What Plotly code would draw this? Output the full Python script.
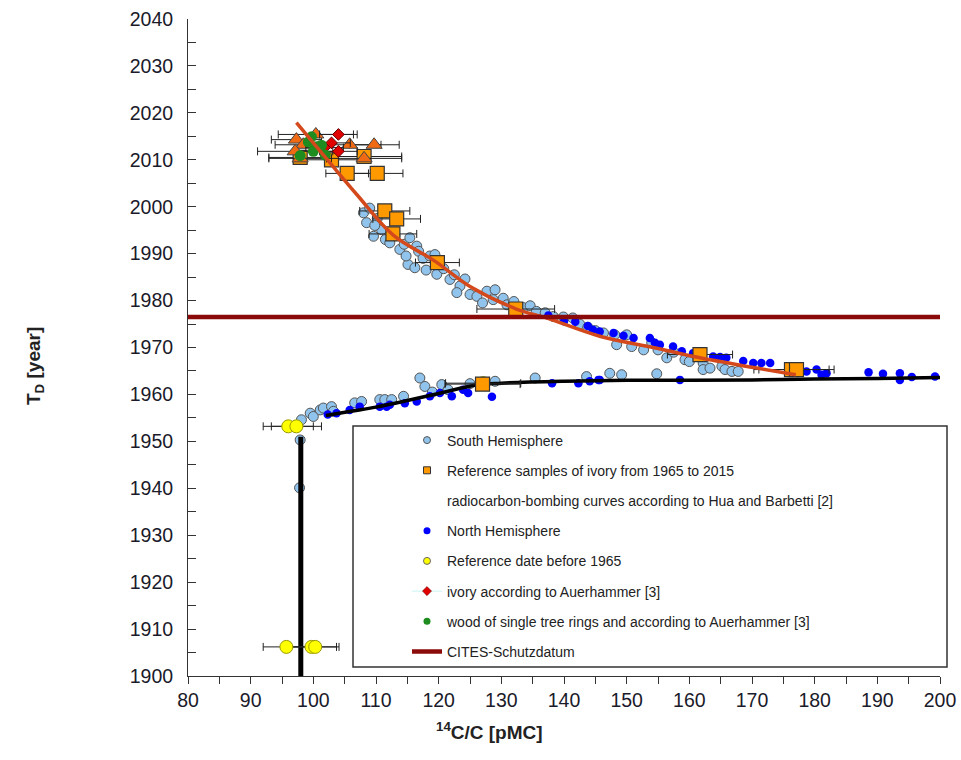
import plotly.graph_objects as go

# ---------------- data ----------------
# South Hemisphere (light blue circles)
sh_x = [108.0, 109.0, 108.5, 109.6, 110.9, 110.2, 109.8, 111.5, 112.2, 113.0, 113.8, 114.5, 115.4, 116.5,
        116.8, 115.1, 116.2, 114.8, 117.5, 118.6, 119.4, 118.0, 119.7, 120.8, 121.8, 122.5, 124.2, 123.4,
        122.9, 125.0, 126.1, 127.7, 129.0, 128.7, 127.0, 130.3, 130.9, 132.0, 133.5, 134.6, 135.6, 137.0,
        138.3, 139.9, 141.4, 142.5, 143.8, 145.0, 146.3, 148.1, 150.0, 148.4, 150.8, 152.7, 155.0, 156.4,
        159.3, 161.2, 162.2, 162.2, 163.3, 165.2, 165.7, 166.8, 167.8, 154.0, 157.5, 160.0,
        97.8, 97.9, 98.1, 99.5, 100.0, 101.1, 101.6, 102.9, 103.2, 106.6, 107.7, 110.6, 111.4, 112.5,
        114.4, 117.0, 117.8, 120.5, 125.0, 129.0, 135.4, 143.6, 147.3, 149.2, 154.8, 119.0, 121.5]
sh_y = [1998.7, 1999.7, 1996.6, 1993.7, 1995.1, 1997.5, 1996.0, 1993.0, 1992.3, 1993.8, 1990.9, 1992.0, 1993.4, 1991.6,
        1990.5, 1987.7, 1987.0, 1989.5, 1989.0, 1989.5, 1989.8, 1986.5, 1985.6, 1986.8, 1984.5, 1985.5, 1984.6, 1983.1,
        1981.7, 1981.3, 1980.9, 1982.0, 1982.3, 1980.2, 1979.5, 1980.5, 1979.1, 1979.8, 1978.5, 1978.9, 1977.7, 1977.4,
        1976.6, 1976.5, 1976.3, 1975.0, 1974.3, 1973.6, 1973.1, 1972.7, 1972.7, 1970.6, 1970.2, 1969.5, 1969.5, 1967.8,
        1967.4, 1968.5, 1966.7, 1965.3, 1965.6, 1966.0, 1965.3, 1964.9, 1964.9, 1971.0, 1969.0, 1967.0,
        1940.1, 1950.3, 1954.6, 1956.0, 1955.3, 1956.7, 1957.1, 1957.4, 1956.4, 1958.2, 1958.5, 1958.9, 1958.9, 1958.9,
        1959.6, 1963.5, 1961.7, 1962.1, 1962.3, 1962.8, 1963.5, 1963.8, 1964.5, 1964.2, 1964.4, 1960.5, 1961.0]

# North Hemisphere (blue circles)
nh_x = [137.5, 140.0, 141.8, 143.8, 144.6, 145.7, 147.9, 149.5, 151.1, 153.7, 154.5, 155.3, 157.4, 158.8,
        160.6, 163.8, 164.9, 165.9, 168.6, 170.2, 171.5, 172.9, 178.7, 180.3, 181.1, 181.9, 188.6, 190.9,
        193.6, 193.6, 195.5, 199.2,
        102.3, 103.7, 105.8, 107.4, 110.6, 111.7, 112.2, 114.6, 116.5, 118.6, 120.2, 122.1, 123.9, 124.7,
        128.5, 138.1, 142.3, 144.1, 145.5, 145.7, 158.5]
nh_y = [1976.8, 1975.6, 1975.5, 1974.6, 1973.8, 1973.4, 1973.1, 1972.5, 1972.0, 1972.0, 1971.0, 1970.6, 1970.2, 1969.2,
        1968.8, 1968.1, 1968.0, 1967.8, 1967.1, 1966.7, 1966.7, 1966.7, 1964.9, 1965.3, 1964.2, 1964.5, 1964.7, 1964.4,
        1964.5, 1963.1, 1963.7, 1963.8,
        1955.7, 1956.0, 1956.7, 1957.4, 1957.4, 1957.4, 1957.8, 1958.1, 1958.5, 1959.6, 1960.3, 1959.6, 1961.0, 1960.3,
        1959.5, 1962.4, 1962.4, 1962.8, 1963.1, 1963.1, 1963.1]

# Reference samples of ivory 1965-2015 (orange squares)
sq_x = [102.9, 108.1, 105.4, 110.2, 97.9, 111.4, 113.3, 112.7, 119.8, 132.3, 161.7, 176.3, 177.1, 127.0]
sq_y = [2010.0, 2010.7, 2007.1, 2007.1, 2010.5, 1999.1, 1997.4, 1994.2, 1988.1, 1978.2, 1968.5, 1965.3, 1965.3, 1962.2]
sq_err = [5.0, 6.0, 3.4, 4.1, 5.0, 4.0, 3.8, 3.8, 3.5, 6.2, 5.2, 6.0, 6.0, 6.0]

# additional ivory samples (orange triangles)
tri_x = [97.3, 100.4, 98.4, 105.8, 109.7, 97.1, 97.9, 108.1]
tri_y = [2014.3, 2015.4, 2013.2, 2013.2, 2013.2, 2011.8, 2010.3, 2010.3]
tri_err = [4.0, 6.0, 4.5, 5.0, 4.0, 6.0, 5.0, 6.0]

# Reference date before 1965 (yellow circles)
ref_x = [96.0, 97.3, 95.7, 99.7, 100.3, 127.1]
ref_y = [1953.2, 1953.2, 1906.2, 1906.2, 1906.2, 1962.4]
ref_err = [4.0, 4.0, 3.7, 4.0, 3.8, 6.0]

# ivory according to Auerhammer (red diamonds)
iv_x = [104.0, 102.9, 104.0, 101.8]
iv_y = [2015.4, 2013.6, 2011.8, 2012.6]
iv_err = [3.0, 3.0, 3.0, 3.0]

# wood of single tree rings (green circles)
wd_x = [99.7, 99.2, 100.5, 101.3, 100.0, 97.9, 101.9]
wd_y = [2014.9, 2013.8, 2012.8, 2013.1, 2011.8, 2010.9, 2011.0]

# radiocarbon bombing curve (black)
bc_x = [102.0, 106.0, 110.0, 115.0, 120.0, 126.0, 130.0, 140.0, 150.0, 160.0, 170.0, 180.0, 190.0, 200.0]
bc_y = [1955.5, 1956.4, 1957.3, 1958.7, 1960.2, 1962.0, 1962.4, 1962.8, 1963.0, 1963.0, 1963.1, 1963.3, 1963.4, 1963.6]
bv_x = [98.0, 98.0]
bv_y = [1900.0, 1951.0]

# fitted curve (orange-red)
fit_x = [97.3, 100.0, 103.0, 107.0, 112.7, 119.4, 125.0, 132.4, 137.2, 145.7, 155.0, 161.7, 170.0, 177.0]
fit_y = [2017.9, 2013.6, 2008.8, 2002.5, 1994.0, 1988.4, 1983.0, 1978.2, 1976.3, 1972.4, 1969.8, 1967.8, 1965.8, 1964.2]

# CITES protection date
cites_year = 1976.5
cites_x = [80, 200]

legend_names = ["South Hemisphere",
                "Reference samples of ivory from 1965 to 2015",
                "radiocarbon-bombing curves according to Hua and Barbetti [2]",
                "North Hemisphere",
                "Reference date before 1965",
                "ivory according to Auerhammer [3]",
                "wood of single tree rings and according to Auerhammer [3]",
                "CITES-Schutzdatum"]

x_ticks = list(range(80, 201, 10))
y_ticks = list(range(1900, 2041, 10))

# ---------------- figure ----------------
FONT = "Liberation Sans, Arial, sans-serif"
SH_COL = "#90c4ec"
NH_COL = "#0000ff"
SQ_COL = "#ff9900"
TRI_COL = "#f06a14"
YEL_COL = "#ffff00"
RED_COL = "#e00000"
GRN_COL = "#1e8c1e"
FIT_COL = "#d4491c"
CITES_COL = "#8b0a0a"

fig = go.Figure()

fig.add_trace(go.Scatter(x=sh_x, y=sh_y, mode="markers", showlegend=False,
                         marker=dict(size=10, color=SH_COL, line=dict(color="#555555", width=1))))
fig.add_trace(go.Scatter(x=nh_x, y=nh_y, mode="markers", showlegend=False,
                         marker=dict(size=8.5, color=NH_COL, line=dict(width=0))))
fig.add_trace(go.Scatter(x=bv_x, y=bv_y, mode="lines", showlegend=False,
                         line=dict(color="black", width=5)))
fig.add_trace(go.Scatter(x=bc_x, y=bc_y, mode="lines", showlegend=False,
                         line=dict(color="black", width=3.5, shape="spline")))
fig.add_trace(go.Scatter(x=ref_x, y=ref_y, mode="markers", showlegend=False,
                         error_x=dict(type="data", array=ref_err, color="#222", thickness=1, width=4),
                         marker=dict(size=13, color=YEL_COL, line=dict(color="#999900", width=1))))
fig.add_trace(go.Scatter(x=sq_x, y=sq_y, mode="markers", showlegend=False,
                         error_x=dict(type="data", array=sq_err, color="#222", thickness=1, width=4),
                         marker=dict(size=14, symbol="square", color=SQ_COL, line=dict(color="#333", width=1.2))))
fig.add_trace(go.Scatter(x=tri_x, y=tri_y, mode="markers", showlegend=False,
                         error_x=dict(type="data", array=tri_err, color="#222", thickness=1, width=4),
                         marker=dict(size=14, symbol="triangle-up", color=TRI_COL, line=dict(color="#444", width=1))))
fig.add_trace(go.Scatter(x=iv_x, y=iv_y, mode="markers", showlegend=False,
                         error_x=dict(type="data", array=iv_err, color="#222", thickness=1, width=4),
                         marker=dict(size=9, symbol="diamond", color=RED_COL, line=dict(color="#600", width=1))))
fig.add_trace(go.Scatter(x=wd_x, y=wd_y, mode="markers", showlegend=False,
                         marker=dict(size=11, color=GRN_COL, line=dict(width=0))))
fig.add_trace(go.Scatter(x=fit_x, y=fit_y, mode="lines", showlegend=False,
                         line=dict(color=FIT_COL, width=3.5, shape="spline")))
fig.add_trace(go.Scatter(x=cites_x, y=[cites_year, cites_year], mode="lines", showlegend=False,
                         line=dict(color=CITES_COL, width=4.5)))

# legend-only entries
leg_styles = [
    dict(mode="markers", marker=dict(size=7, color=SH_COL, line=dict(color="#555", width=1))),
    dict(mode="markers", marker=dict(size=7, symbol="square", color=SQ_COL, line=dict(color="#333", width=1))),
    dict(mode="markers", marker=dict(size=7, color="rgba(0,0,0,0)", line=dict(width=0))),
    dict(mode="markers", marker=dict(size=7, color=NH_COL, line=dict(width=0))),
    dict(mode="markers", marker=dict(size=7, color=YEL_COL, line=dict(color="#666", width=1))),
    dict(mode="lines+markers", line=dict(color="#c8f4f4", width=1),
         marker=dict(size=7, symbol="diamond", color=RED_COL, line=dict(color="#600", width=0.5))),
    dict(mode="markers", marker=dict(size=7, color=GRN_COL, line=dict(width=0))),
    dict(mode="lines", line=dict(color=CITES_COL, width=4.5)),
]
for i, (name, st) in enumerate(zip(legend_names, leg_styles)):
    fig.add_trace(go.Scatter(x=[None], y=[None], name=name, legendgroup=f"g{i}",
                             legendrank=i + 1, showlegend=True, **st))

L, R, T, B = 188, 21, 19, 84
pw, ph = 961 - L - R, 760 - T - B

def px(xp):
    return (xp - L) / pw

def py(yp):
    return (760 - B - yp) / ph

fig.add_shape(type="rect", xref="paper", yref="paper",
              x0=px(353), x1=px(947), y0=py(667), y1=py(426),
              line=dict(color="#333", width=1.5), fillcolor="rgba(0,0,0,0)", layer="above")

fig.add_annotation(xref="paper", yref="paper", x=px(21), y=py(366), text="<b>T<sub>D</sub> [year]</b>",
                   textangle=-90, showarrow=False, font=dict(family=FONT, size=19, color="#222"))
fig.add_annotation(xref="paper", yref="paper", x=px(489), y=py(745), text="<b><sup>14</sup>C/C [pMC]</b>",
                   showarrow=False, font=dict(family=FONT, size=19, color="#222"))

fig.update_layout(
    width=961, height=760,
    margin=dict(l=L, r=R, t=T, b=B, autoexpand=False),
    paper_bgcolor="white", plot_bgcolor="white",
    font=dict(family=FONT, color="#222"),
    legend=dict(x=px(407), y=py(424.5), xanchor="left", yanchor="top",
                bgcolor="rgba(0,0,0,0)", borderwidth=0, traceorder="grouped",
                tracegroupgap=9, font=dict(family=FONT, size=14, color="#222")),
    xaxis=dict(range=[80, 200], tickvals=x_ticks, ticks="outside", ticklen=7, tickcolor="#333",
               showline=True, linecolor="#333", linewidth=1, showgrid=False, zeroline=False,
               automargin=False,
               tickfont=dict(family=FONT, size=19.5, color="#1a1a2a"),
               minor=dict(dtick=5, ticks="outside", ticklen=7, tickcolor="#333")),
    yaxis=dict(range=[1900, 2040], tickvals=y_ticks, ticks="inside", ticklen=8, tickcolor="#333",
               showline=True, linecolor="#333", linewidth=1, showgrid=False, zeroline=False,
               automargin=False,
               tickfont=dict(family=FONT, size=19.5, color="#1a1a2a"), ticklabelstandoff=10,
               minor=dict(dtick=5, ticks="inside", ticklen=8, tickcolor="#333")),
)

fig.write_html("out.html")
